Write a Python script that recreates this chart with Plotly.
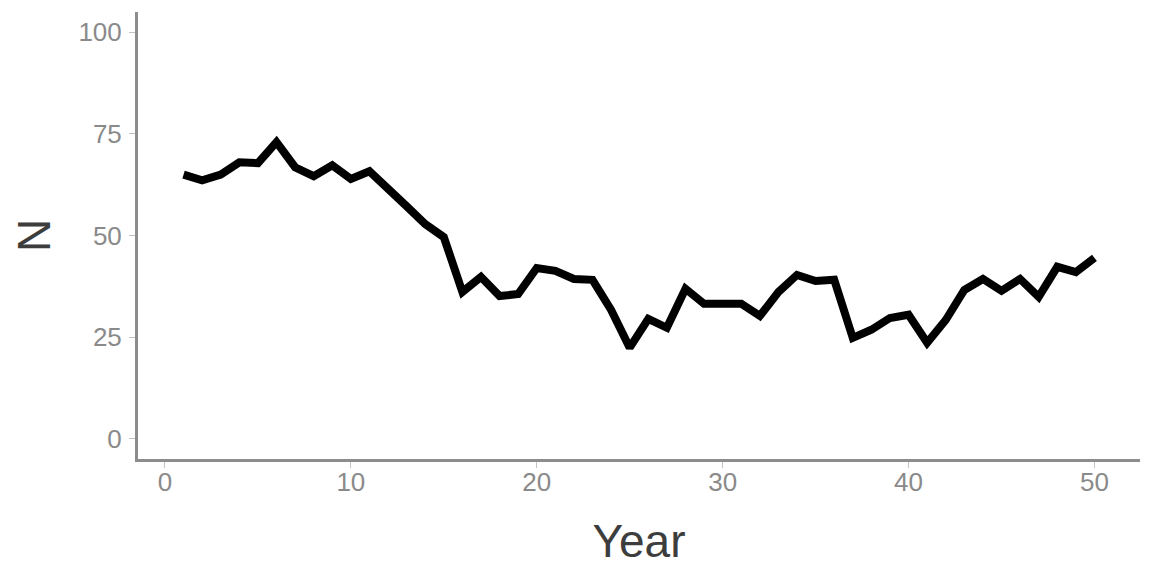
import plotly.graph_objects as go

years = list(range(1, 51))
n_values = [65.0, 63.6, 65.0, 68.0, 67.8, 73.0, 66.8, 64.6, 67.3, 63.9,
            65.8, 61.7, 57.2, 52.8, 49.6, 36.1, 39.8, 35.1, 35.6, 42.0,
            41.3, 39.3, 39.1, 31.7, 22.4, 29.5, 27.3, 36.9, 33.2, 33.2,
            33.2, 30.2, 36.1, 40.3, 38.8, 39.1, 24.8, 26.8, 29.7, 30.5,
            23.6, 29.2, 36.6, 39.3, 36.4, 39.3, 34.9, 42.3, 41.0, 44.5]

x_ticks = [0, 10, 20, 30, 40, 50]
y_ticks = [0, 25, 50, 75, 100]

FONT = "Liberation Sans, Arial, sans-serif"
AXIS_COLOR = "#8c8c8c"
TICK_COLOR = "#c4c4c4"
TICK_FONT_COLOR = "#8a8a8a"
TITLE_COLOR = "#3d3d3d"

fig = go.Figure()
fig.add_trace(go.Scatter(x=years, y=n_values, mode="lines",
                         line=dict(color="black", width=8, shape="linear"),
                         showlegend=False, hoverinfo="skip"))

fig.update_layout(
    width=1152, height=576,
    margin=dict(l=130, r=20, t=4, b=125),
    paper_bgcolor="white", plot_bgcolor="white",
    font=dict(family=FONT),
)
fig.update_xaxes(
    range=[-1.45, 52.45], tickvals=x_ticks, ticktext=[str(v) for v in x_ticks],
    showgrid=False, zeroline=False, automargin=False,
    showline=True, linecolor=AXIS_COLOR, linewidth=3,
    ticks="outside", ticklen=6, tickwidth=1, tickcolor=TICK_COLOR,
    tickfont=dict(size=26, color=TICK_FONT_COLOR, family=FONT),
    ticklabelstandoff=-8,
    title=dict(text="Year", font=dict(size=46, color=TITLE_COLOR, family=FONT), standoff=29),
)
fig.update_yaxes(
    range=[-5, 105], tickvals=y_ticks, ticktext=[str(v) for v in y_ticks],
    showgrid=False, zeroline=False, automargin=False,
    showline=True, linecolor=AXIS_COLOR, linewidth=3,
    ticks="outside", ticklen=6, tickwidth=1, tickcolor=TICK_COLOR,
    tickfont=dict(size=26, color=TICK_FONT_COLOR, family=FONT),
    ticklabelstandoff=2,
    title=dict(text="N", font=dict(size=46, color=TITLE_COLOR, family=FONT), standoff=17),
)

fig.write_html("out.html")
